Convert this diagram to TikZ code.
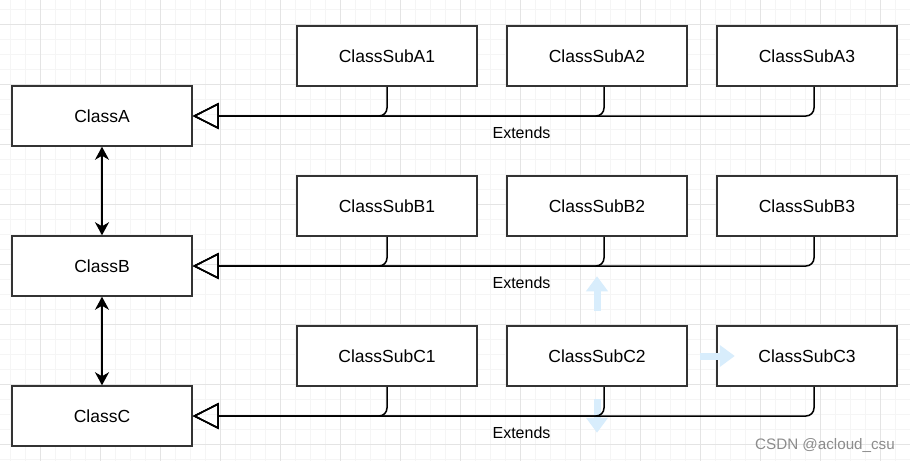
\documentclass[tikz,border=0pt]{standalone}
\usepackage{fontspec}
\setmainfont{Liberation Sans}
\usepackage{tikz}
\usetikzlibrary{arrows}
\usetikzlibrary{arrows.meta}
\definecolor{gridmajc}{RGB}{228,228,228}
\definecolor{gridminc}{RGB}{245,245,245}
\definecolor{hintblue}{RGB}{216,237,252}
\definecolor{wmgray}{RGB}{140,140,140}
\tikzstyle{classbox}=[
        rectangle,
        draw=black!80,
        line width=1.5pt,
        minimum width=180pt,
        minimum height=60pt,
        inner sep=0pt,
        fill=white,
        font=\fontsize{17.5}{21}\selectfont
]
\tikzstyle{extends}=[-{Triangle[open,length=26pt,width=26pt]},line width=1.5pt,rounded corners=8pt]
\tikzstyle{assoc}=[{Stealth[length=13pt,width=14pt,inset=4pt]}-{Stealth[length=13pt,width=14pt,inset=4pt]},line width=1.5pt]
\tikzstyle{lbl}=[font=\fontsize{16}{19}\selectfont,inner sep=0pt]
\tikzstyle{hint}=[line width=7pt,draw=hintblue,-{Triangle[length=15pt,width=21pt,color=hintblue]}]
\tikzstyle{gridmin}=[draw=gridminc,line width=1pt]
\tikzstyle{gridmaj}=[draw=gridmajc,line width=1pt]
\tikzstyle{wm}=[text=wmgray,font=\fontsize{15.2}{18}\selectfont,inner sep=0pt]

\begin{document}
\begin{tikzpicture}[x=1pt,y=-1pt]
\useasboundingbox (0,0) rectangle (910,461);
\fill[white] (0,0) rectangle (910,461);
%Grid
\foreach \x in {10,25,...,910} \draw[gridmin] (\x,0) -- (\x,461);
\foreach \y in {9.5,24.5,...,461} \draw[gridmin] (0,\y) -- (910,\y);
\foreach \x in {40,100,...,910} \draw[gridmaj] (\x,0) -- (\x,461);
\foreach \y in {24.5,84.5,...,461} \draw[gridmaj] (0,\y) -- (910,\y);
%Nodes
\node[classbox] (classA) at (102,116) {ClassA};
\node[classbox] (classB) at (102,266) {ClassB};
\node[classbox] (classC) at (102,416) {ClassC};
\node[classbox] (subA1) at (387,56) {ClassSubA1};
\node[classbox] (subA2) at (597,56) {ClassSubA2};
\node[classbox] (subA3) at (807,56) {ClassSubA3};
\node[classbox] (subB1) at (387,206) {ClassSubB1};
\node[classbox] (subB2) at (597,206) {ClassSubB2};
\node[classbox] (subB3) at (807,206) {ClassSubB3};
\node[classbox] (subC1) at (387,356) {ClassSubC1};
\node[classbox] (subC2) at (597,356) {ClassSubC2};
\node[classbox] (subC3) at (807,356) {ClassSubC3};
\node[lbl] (extA) at (521.5,132.5) {Extends};
\node[lbl] (extB) at (521.5,282.5) {Extends};
\node[lbl] (extC) at (521.5,432.5) {Extends};
\node[wm] (wmark) at (825,445) {CSDN @acloud\_csu};
%Hover hints
\draw[hint] ([yshift=14pt]subC2.north) -- ([yshift=49pt]subC2.north);
\draw[hint] ([xshift=12pt]subC2.east) -- ([xshift=47pt]subC2.east);
\draw[hint] ([yshift=-12pt]subC2.south) -- ([yshift=-46pt]subC2.south);
%Drawing Edges
\draw[extends] (subA1.south) |- (classA.east);
\draw[extends] ([xshift=7pt]subA2.south) |- (classA.east);
\draw[extends] ([xshift=7pt]subA3.south) |- (classA.east);
\draw[extends] (subB1.south) |- (classB.east);
\draw[extends] ([xshift=7pt]subB2.south) |- (classB.east);
\draw[extends] ([xshift=7pt]subB3.south) |- (classB.east);
\draw[extends] (subC1.south) |- (classC.east);
\draw[extends] ([xshift=7pt]subC2.south) |- (classC.east);
\draw[extends] ([xshift=7pt]subC3.south) |- (classC.east);
\draw[assoc] (classA) -- (classB);
\draw[assoc] (classB) -- (classC);
\end{tikzpicture}
\end{document}
